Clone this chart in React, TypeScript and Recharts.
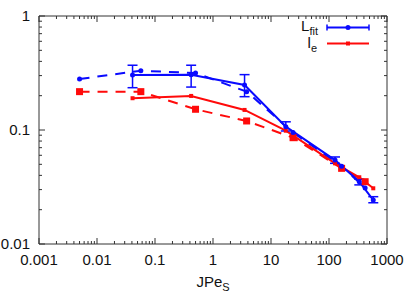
import React from 'react';
import { LineChart, Line, XAxis, YAxis, ErrorBar } from 'recharts';

const xDecades = [0.001, 0.01, 0.1, 1, 10, 100, 1000];
const xLabels = ['0.001', '0.01', '0.1', '1', '10', '100', '1000'];
const yDecades = [0.01, 0.1, 1];
const yLabels = ['0.01', '0.1', '1'];
const minorSteps = [2, 3, 4, 5, 6, 7, 8, 9];

// solid curves (with error bars on L_fit)
const jpeSolid = [0.041, 0.42, 3.5, 18, 127, 333, 580];
const lfitSolid = [0.303, 0.305, 0.248, 0.107, 0.0545, 0.0352, 0.0243];
const lfitLow = [0.235, 0.238, 0.196, 0.098, 0.051, 0.033, 0.023];
const lfitHigh = [0.37, 0.37, 0.306, 0.118, 0.058, 0.037, 0.026];
const leSolid = [0.19, 0.199, 0.15, 0.0986, 0.051, 0.0385, 0.0308];

// dashed curves
const jpeDashed = [0.005, 0.057, 0.5, 3.8, 24, 165, 420];
const lfitDashed = [0.28, 0.331, 0.316, 0.217, 0.095, 0.048, 0.031];
const leDashed = [0.217, 0.217, 0.152, 0.12, 0.0856, 0.0461, 0.0352];

const BLUE = '#0a0aff';
const RED = '#ff0a0a';
const AXIS = '#333';
const FONT = '"Liberation Sans", Arial, sans-serif';

const withMinors = (decades: number[]) => {
  const out: number[] = [];
  decades.forEach((d, i) => {
    out.push(d);
    if (i < decades.length - 1) minorSteps.forEach((m) => out.push(d * m));
  });
  return out;
};

const xTicks = withMinors(xDecades);
const yTicks = withMinors(yDecades);

const fitSolidData = jpeSolid.map((x, i) => ({
  x,
  y: lfitSolid[i],
  err: [lfitSolid[i] - lfitLow[i], lfitHigh[i] - lfitSolid[i]],
}));
const leSolidData = jpeSolid.map((x, i) => ({ x, y: leSolid[i] }));
const fitDashedData = jpeDashed.map((x, i) => ({ x, y: lfitDashed[i] }));
const leDashedData = jpeDashed.map((x, i) => ({ x, y: leDashed[i] }));

type Side = 'bottom' | 'top' | 'left' | 'right';

const isMajor = (majors: number[], v: number) => majors.findIndex((m) => Math.abs(v / m - 1) < 1e-6);

const makeTick = (side: Side, majors: number[], labels: string[]) => (props: any) => {
  const { x, y, payload } = props;
  const idx = isMajor(majors, payload.value);
  const len = idx >= 0 ? 6 : 3;
  let d = '';
  if (side === 'bottom') d = `M${x},${y}V${y - len}`;
  else if (side === 'top') d = `M${x},${y}V${y + len}`;
  else if (side === 'left') d = `M${x},${y}H${x + len}`;
  else d = `M${x},${y}H${x - len}`;
  let label = null;
  if (idx >= 0 && side === 'bottom') {
    label = (
      <text x={x} y={y + 21} textAnchor="middle" fontSize={15} fontFamily={FONT} fill="#111" stroke="none">
        {labels[idx]}
      </text>
    );
  } else if (idx >= 0 && side === 'left') {
    label = (
      <text x={x - 9} y={y + 5} textAnchor="end" fontSize={15} fontFamily={FONT} fill="#111" stroke="none">
        {labels[idx]}
      </text>
    );
  }
  return (
    <g>
      <path d={d} stroke={AXIS} strokeWidth={1} fill="none" />
      {label}
    </g>
  );
};

const squareDot = (size: number, color: string) => (p: any) => (
  <rect key={`s-${p.index}`} x={p.cx - size / 2} y={p.cy - size / 2} width={size} height={size} fill={color} />
);
const roundDot = (r: number, color: string) => (p: any) => (
  <circle key={`c-${p.index}`} cx={p.cx} cy={p.cy} r={r} fill={color} />
);

const axisCommon = {
  type: 'number' as const,
  scale: 'log' as const,
  allowDataOverflow: true,
  interval: 0 as const,
  tickSize: 0,
  tickMargin: 0,
  tickLine: false,
  axisLine: { stroke: AXIS },
};

export default function App() {
  return (
    <div style={{ position: 'absolute', left: 0, top: 0, width: 415, height: 297 }}>
      <LineChart width={415} height={297} margin={{ top: 15, right: 27, bottom: 0, left: 0 }}>
        <XAxis
          {...axisCommon}
          xAxisId="b"
          dataKey="x"
          domain={[0.001, 1000]}
          ticks={xTicks}
          tick={makeTick('bottom', xDecades, xLabels)}
          height={53}
        />
        <XAxis
          {...axisCommon}
          xAxisId="t"
          orientation="top"
          dataKey="x"
          domain={[0.001, 1000]}
          ticks={xTicks}
          tick={makeTick('top', xDecades, xLabels)}
          height={1}
        />
        <YAxis
          {...axisCommon}
          yAxisId="l"
          domain={[0.01, 1]}
          ticks={yTicks}
          tick={makeTick('left', yDecades, yLabels)}
          width={39}
        />
        <YAxis
          {...axisCommon}
          yAxisId="r"
          orientation="right"
          domain={[0.01, 1]}
          ticks={yTicks}
          tick={makeTick('right', yDecades, yLabels)}
          width={1}
        />
        <Line
          xAxisId="b"
          yAxisId="l"
          data={leDashedData}
          dataKey="y"
          stroke={RED}
          strokeWidth={2}
          strokeDasharray="10 8"
          dot={squareDot(7, RED)}
          isAnimationActive={false}
        />
        <Line
          xAxisId="b"
          yAxisId="l"
          data={fitDashedData}
          dataKey="y"
          stroke={BLUE}
          strokeWidth={2}
          strokeDasharray="10 8"
          dot={roundDot(2.5, BLUE)}
          isAnimationActive={false}
        />
        <Line
          xAxisId="b"
          yAxisId="l"
          data={leSolidData}
          dataKey="y"
          stroke={RED}
          strokeWidth={2}
          dot={squareDot(4, RED)}
          isAnimationActive={false}
        />
        <Line
          xAxisId="b"
          yAxisId="l"
          data={fitSolidData}
          dataKey="y"
          stroke={BLUE}
          strokeWidth={2}
          dot={roundDot(2.5, BLUE)}
          isAnimationActive={false}
        >
          <ErrorBar dataKey="err" width={5} stroke={BLUE} strokeWidth={1.5} direction="y" />
        </Line>
      </LineChart>
      <svg
        width={415}
        height={297}
        style={{ position: 'absolute', left: 0, top: 0, pointerEvents: 'none' }}
        fontFamily={FONT}
      >
        <text x={213} y={287} textAnchor="middle" fontSize={15} fill="#111">
          JPe<tspan fontSize={11} dy={4}>S</tspan>
        </text>
        <text x={318} y={31} textAnchor="end" fontSize={15} fill="#111">
          L<tspan fontSize={11} dy={4}>fit</tspan>
        </text>
        <text x={317} y={48} textAnchor="end" fontSize={15} fill="#111">
          l<tspan fontSize={11} dy={4}>e</tspan>
        </text>
        <line x1={327} x2={369} y1={27.5} y2={27.5} stroke={BLUE} strokeWidth={2} />
        <line x1={327} x2={327} y1={24.5} y2={30.5} stroke={BLUE} strokeWidth={1.5} />
        <line x1={369} x2={369} y1={24.5} y2={30.5} stroke={BLUE} strokeWidth={1.5} />
        <circle cx={348} cy={27.5} r={2.5} fill={BLUE} />
        <line x1={327} x2={369} y1={43.5} y2={43.5} stroke={RED} strokeWidth={2} />
        <rect x={346} y={41.5} width={4} height={4} fill={RED} />
      </svg>
    </div>
  );
}
